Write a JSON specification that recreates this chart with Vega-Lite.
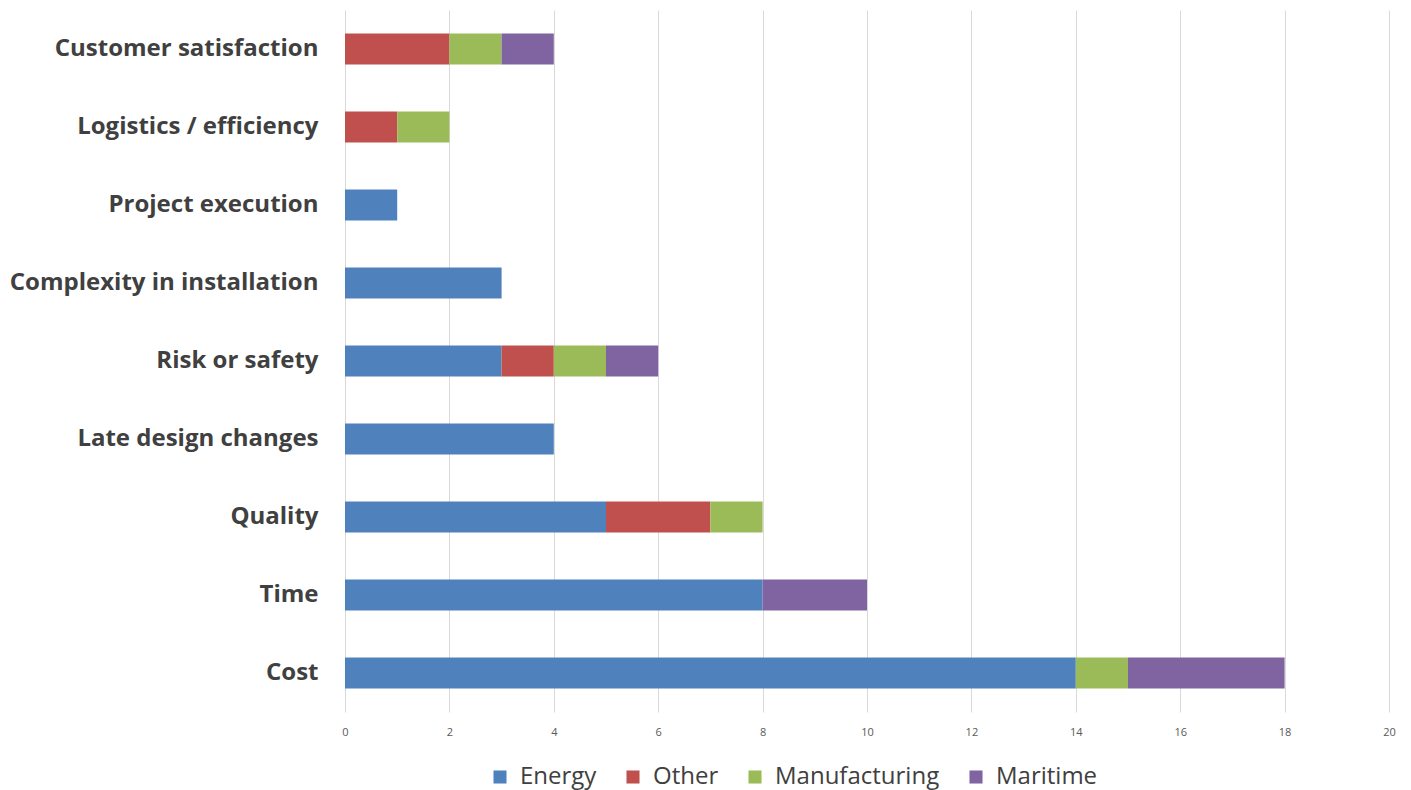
{
  "$schema": "https://vega.github.io/schema/vega-lite/v6.json",
  "width": 1044,
  "height": 702,
  "autosize": "none",
  "padding": {"left": 345, "top": 10, "right": 22, "bottom": 78},
  "background": "white",
  "data": {
    "values": [
      {"cat": "Customer satisfaction", "sector": "Other", "v": 2},
      {"cat": "Customer satisfaction", "sector": "Manufacturing", "v": 1},
      {"cat": "Customer satisfaction", "sector": "Maritime", "v": 1},
      {"cat": "Logistics / efficiency", "sector": "Other", "v": 1},
      {"cat": "Logistics / efficiency", "sector": "Manufacturing", "v": 1},
      {"cat": "Project execution", "sector": "Energy", "v": 1},
      {"cat": "Complexity in installation", "sector": "Energy", "v": 3},
      {"cat": "Risk or safety", "sector": "Energy", "v": 3},
      {"cat": "Risk or safety", "sector": "Other", "v": 1},
      {"cat": "Risk or safety", "sector": "Manufacturing", "v": 1},
      {"cat": "Risk or safety", "sector": "Maritime", "v": 1},
      {"cat": "Late design changes", "sector": "Energy", "v": 4},
      {"cat": "Quality", "sector": "Energy", "v": 5},
      {"cat": "Quality", "sector": "Other", "v": 2},
      {"cat": "Quality", "sector": "Manufacturing", "v": 1},
      {"cat": "Time", "sector": "Energy", "v": 8},
      {"cat": "Time", "sector": "Maritime", "v": 2},
      {"cat": "Cost", "sector": "Energy", "v": 14},
      {"cat": "Cost", "sector": "Manufacturing", "v": 1},
      {"cat": "Cost", "sector": "Maritime", "v": 3}
    ]
  },
  "transform": [
    {"calculate": "indexof(['Energy','Other','Manufacturing','Maritime'], datum.sector)", "as": "ord"}
  ],
  "mark": {"type": "bar"},
  "encoding": {
    "y": {
      "field": "cat",
      "type": "nominal",
      "sort": ["Customer satisfaction", "Logistics / efficiency", "Project execution", "Complexity in installation", "Risk or safety", "Late design changes", "Quality", "Time", "Cost"],
      "scale": {"paddingInner": 0.6, "paddingOuter": 0.3},
      "axis": {
        "title": null,
        "domain": false,
        "ticks": false,
        "labelFont": "Open Sans",
        "labelFontWeight": "bold",
        "labelFontSize": 24,
        "labelColor": "#404040",
        "labelPadding": 27,
        "labelLimit": 400,
        "labelBaseline": "middle"
      }
    },
    "x": {
      "field": "v",
      "type": "quantitative",
      "stack": "zero",
      "scale": {"domain": [0, 20], "nice": false},
      "axis": {
        "title": null,
        "values": [0, 2, 4, 6, 8, 10, 12, 14, 16, 18, 20],
        "domain": false,
        "ticks": false,
        "grid": true,
        "gridColor": "#d9d9d9",
        "labelFlush": false,
        "labelFont": "Open Sans",
        "labelFontSize": 11,
        "labelColor": "#595959",
        "labelPadding": 14
      }
    },
    "color": {
      "field": "sector",
      "type": "nominal",
      "scale": {"domain": ["Energy", "Other", "Manufacturing", "Maritime"], "range": ["#4F81BD", "#C0504D", "#9BBB59", "#8064A2"]},
      "legend": {
        "title": null,
        "orient": "none",
        "direction": "horizontal",
        "legendX": 143,
        "legendY": 755,
        "symbolType": "square",
        "symbolSize": 170,
        "symbolStrokeWidth": 0,
        "labelFont": "Open Sans",
        "labelFontSize": 24,
        "labelLimit": 400,
        "labelColor": "#404040",
        "labelOffset": 8,
        "columnPadding": 24
      }
    },
    "order": {"field": "ord", "type": "quantitative"}
  },
  "config": {"view": {"stroke": null}}
}
